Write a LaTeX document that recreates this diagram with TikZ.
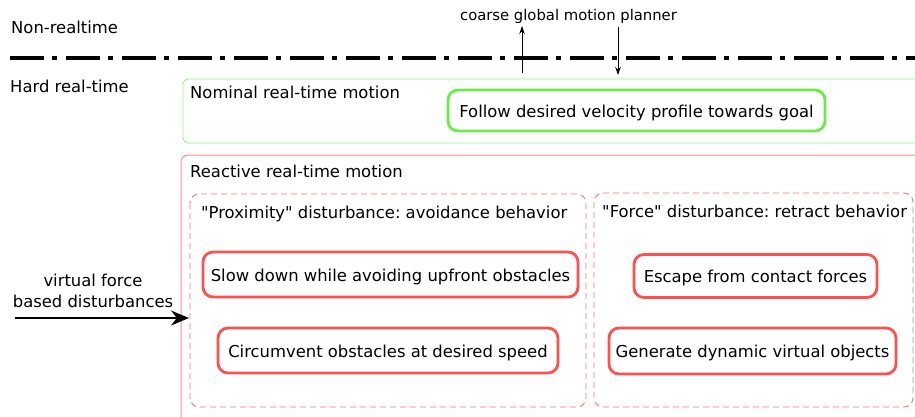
\documentclass[tikz,border=0pt]{standalone}
\usepackage{fontspec}
\setmainfont{DejaVu Sans}
\usetikzlibrary{arrows.meta}
\definecolor{gthin}{HTML}{99EE88}
\definecolor{gthick}{HTML}{66EE44}
\definecolor{rthin}{HTML}{FF8C8C}
\definecolor{rthick}{HTML}{FF5050}
\definecolor{rdash}{HTML}{FF7070}
\frenchspacing
\tikzset{
  lbl/.style={anchor=base west, inner sep=0pt, font=\fontsize{16.4}{19}\selectfont},
  gbox/.style={draw=gthick, line width=2.8pt, rounded corners=10pt, inner sep=0pt, text height=13pt, text depth=0pt, font=\fontsize{16.4}{19}\selectfont},
  rbox/.style={draw=rthick, line width=2.8pt, rounded corners=10pt, inner sep=0pt, text height=13pt, text depth=0pt, font=\fontsize{16.4}{19}\selectfont},
  outerg/.style={draw=gthin, line width=0.9pt, rounded corners=5pt},
  outerr/.style={draw=rthin, line width=1pt, rounded corners=7pt},
  dbox/.style={draw=rdash, line width=0.9pt, dash pattern=on 6pt off 4pt, rounded corners=9pt},
}
\begin{document}
\begin{tikzpicture}[x=1pt,y=-1pt]
\clip (0,0) rectangle (915,416);
% separator
\coordinate (sepL) at (10,58);
\coordinate (sepR) at (915,58);
\draw[line width=4.5pt, dash pattern=on 34pt off 8pt on 5pt off 9pt] (sepL) -- (sepR);
\node[lbl] (nrt) at (11,33) {Non-realtime};
\node[lbl] (hrt) at (10,92) {Hard real-time};
\node[anchor=base, inner sep=0pt, font=\fontsize{14.8}{17}\selectfont] (planner) at (568.5,20) {coarse global motion planner};
\coordinate (upfoot) at (522,73);
\coordinate (uptop) at (522,26);
\coordinate (downtop) at (618,27);
\coordinate (downfoot) at (618,75);
\draw[line width=0.9pt, -{Stealth[length=8pt,width=5.5pt]}] (upfoot) -- (uptop);
\draw[line width=0.9pt, -{Stealth[length=8pt,width=5.5pt]}] (downtop) -- (downfoot);
% nominal
\draw[outerg] (183,143) rectangle (930,79);
\node[lbl] (nom) at (190,98) {Nominal real-time motion};
\node[gbox, minimum width=377pt, minimum height=41pt] (follow) at (636.5,110.5) {Follow desired velocity profile towards goal};
% reactive
\draw[outerr] (181,430) rectangle (930,155);
\node[lbl] (react) at (190,177) {Reactive real-time motion};
\draw[dbox] (190,194) rectangle (586,407);
\draw[dbox] (594,193) rectangle (913,407);
\node[lbl] (prox) at (201,218) {\textquotedbl Proximity\textquotedbl{} disturbance: avoidance behavior};
\node[lbl] (force) at (602,217) {\textquotedbl Force\textquotedbl{} disturbance: retract behavior};
\node[rbox, minimum width=375pt, minimum height=45pt] (slow) at (390.5,274.5) {Slow down while avoiding upfront obstacles};
\node[rbox, minimum width=340pt, minimum height=45pt] (circ) at (388,350.5) {Circumvent obstacles at desired speed};
\node[rbox, minimum width=243pt, minimum height=43pt] (escape) at (755.5,276) {Escape from contact forces};
\node[rbox, minimum width=287pt, minimum height=46pt] (gen) at (752.5,351) {Generate dynamic virtual objects};
% disturbance input
\node[align=center, anchor=base, inner sep=0pt, font=\fontsize{16.4}{21}\selectfont] (vf) at (93,307) {virtual force\\based disturbances};
\coordinate (vfstart) at (15,318);
\coordinate (vfend) at (189,318);
\draw[line width=1.6pt, -{Stealth[length=18pt,width=15pt]}] (vfstart) -- (vfend);
\end{tikzpicture}
\end{document}
